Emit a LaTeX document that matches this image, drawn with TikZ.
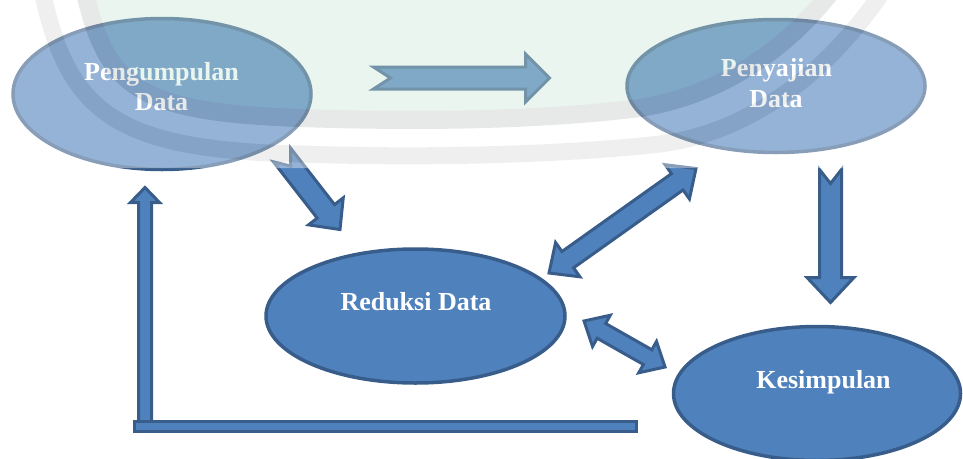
\documentclass[tikz,border=0pt]{standalone}
\usepackage{fontspec}
\setmainfont{Liberation Serif}
\usetikzlibrary{calc,shapes.geometric}

\definecolor{boxfill}{RGB}{79,129,189}
\definecolor{boxline}{RGB}{56,93,138}
\definecolor{wmgreen}{RGB}{202,230,215}
\definecolor{wmgrey}{RGB}{196,200,199}

\tikzset{
  bubble/.style={ellipse, draw=boxline, fill=boxfill, line width=3.5pt, inner sep=0pt},
  blockarrow/.style={draw=boxline, fill=boxfill, line width=3pt, line join=miter},
  bartext/.style={font=\bfseries\fontsize{26}{30}\selectfont, text=white, inner sep=0pt, anchor=base},
}

% block arrow with a notched tail: tail, tip, shaft half width, head half width, head length, notch depth
\newcommand\notchedarrow[6]{%
  \draw[blockarrow] ($(#1)!#3!90:(#2)$) -- ($(#1)!#6!(#2)$) -- ($(#1)!#3!-90:(#2)$)
    -- ($(#2)!#5!(#1)!#3!90:(#1)$) -- ($(#2)!#5!(#1)!#4!90:(#1)$) -- (#2)
    -- ($(#2)!#5!(#1)!#4!-90:(#1)$) -- ($(#2)!#5!(#1)!#3!-90:(#1)$) -- cycle;}

% block arrow with a head at both ends: end, end, shaft half width, head half width, head length
\newcommand\twowayarrow[5]{%
  \draw[blockarrow] (#1) -- ($(#1)!#5!(#2)!#4!90:(#2)$) -- ($(#1)!#5!(#2)!#3!90:(#2)$)
    -- ($(#2)!#5!(#1)!#3!-90:(#1)$) -- ($(#2)!#5!(#1)!#4!-90:(#1)$) -- (#2)
    -- ($(#2)!#5!(#1)!#4!90:(#1)$) -- ($(#2)!#5!(#1)!#3!90:(#1)$)
    -- ($(#1)!#5!(#2)!#3!-90:(#2)$) -- ($(#1)!#5!(#2)!#4!-90:(#2)$) -- cycle;}

\begin{document}
\begin{tikzpicture}[x=1pt,y=-1pt]
\useasboundingbox (0,0) rectangle (963,458);
\clip (0,0) rectangle (963,458);

% stages
\node[bubble, minimum width=298pt, minimum height=151pt] (collect) at (162,94) {};
\node[bubble, minimum width=298pt, minimum height=133pt] (present) at (776,86) {};
\node[bubble, minimum width=299pt, minimum height=134pt] (reduce) at (415.5,316) {};
\node[bubble, minimum width=287pt, minimum height=134pt] (conclude) at (817,393.5) {};

\node[bartext] (collectA) at (161.5,80) {Pengumpulan};
\node[bartext] (collectB) at (161.5,110) {Data};
\node[bartext] (presentA) at (776.5,76) {Penyajian};
\node[bartext] (presentB) at (776,107) {Data};
\node[bartext] (reduceT) at (416,310) {Reduksi Data};
\node[bartext] (concludeT) at (823.5,388) {Kesimpulan};

% arrow end points
\coordinate (topTail) at (373.5,78);
\coordinate (topTip) at (549.5,78);
\coordinate (diaTail) at (282,155);
\coordinate (diaTip) at (340,229.5);
\coordinate (prA) at (549,273);
\coordinate (prB) at (696,168.5);
\coordinate (rkA) at (584,321);
\coordinate (rkB) at (665,367);
\coordinate (downTail) at (830.5,169.5);
\coordinate (downTip) at (830.5,302.5);
\coordinate (backTail) at (145,428);
\coordinate (backTip) at (145,187.5);
\coordinate (barL) at (134.5,421.5);
\coordinate (barR) at (636.5,431.5);

\notchedarrow{topTail}{topTip}{11pt}{24pt}{24pt}{17pt}
\notchedarrow{diaTail}{diaTip}{11pt}{22pt}{23pt}{14pt}
\twowayarrow{prA}{prB}{10pt}{21pt}{23pt}
\twowayarrow{rkA}{rkB}{8.5pt}{18pt}{20pt}
\notchedarrow{downTail}{downTip}{11pt}{23.5pt}{25pt}{14pt}

% feedback loop back to data collection
\notchedarrow{backTail}{backTip}{6.5pt}{14.5pt}{15pt}{0pt}
\draw[blockarrow] (barL) rectangle (barR);

% faded library seal over the top band
\begin{scope}[transparency group, opacity=0.4]
  \clip (0,0) rectangle (963,168);
  \fill[white] (0,-5) rectangle (963,168);
  \fill[wmgreen] (82,-20) .. controls (105,85) and (130,112) .. (300,118)
    .. controls (450,123) and (560,118) .. (640,108)
    .. controls (720,95) and (790,50) .. (840,-20) -- cycle;
  \draw[wmgrey, line width=18pt] (82,-20) .. controls (105,85) and (130,112) .. (300,118)
    .. controls (450,123) and (560,118) .. (640,108)
    .. controls (720,95) and (790,50) .. (840,-20);
  \draw[wmgrey!70!white, line width=17pt] (40,-20) .. controls (65,110) and (110,150) .. (300,154)
    .. controls (450,159) and (580,153) .. (660,144)
    .. controls (760,131) and (840,60) .. (890,-20);
\end{scope}
\end{tikzpicture}
\end{document}
